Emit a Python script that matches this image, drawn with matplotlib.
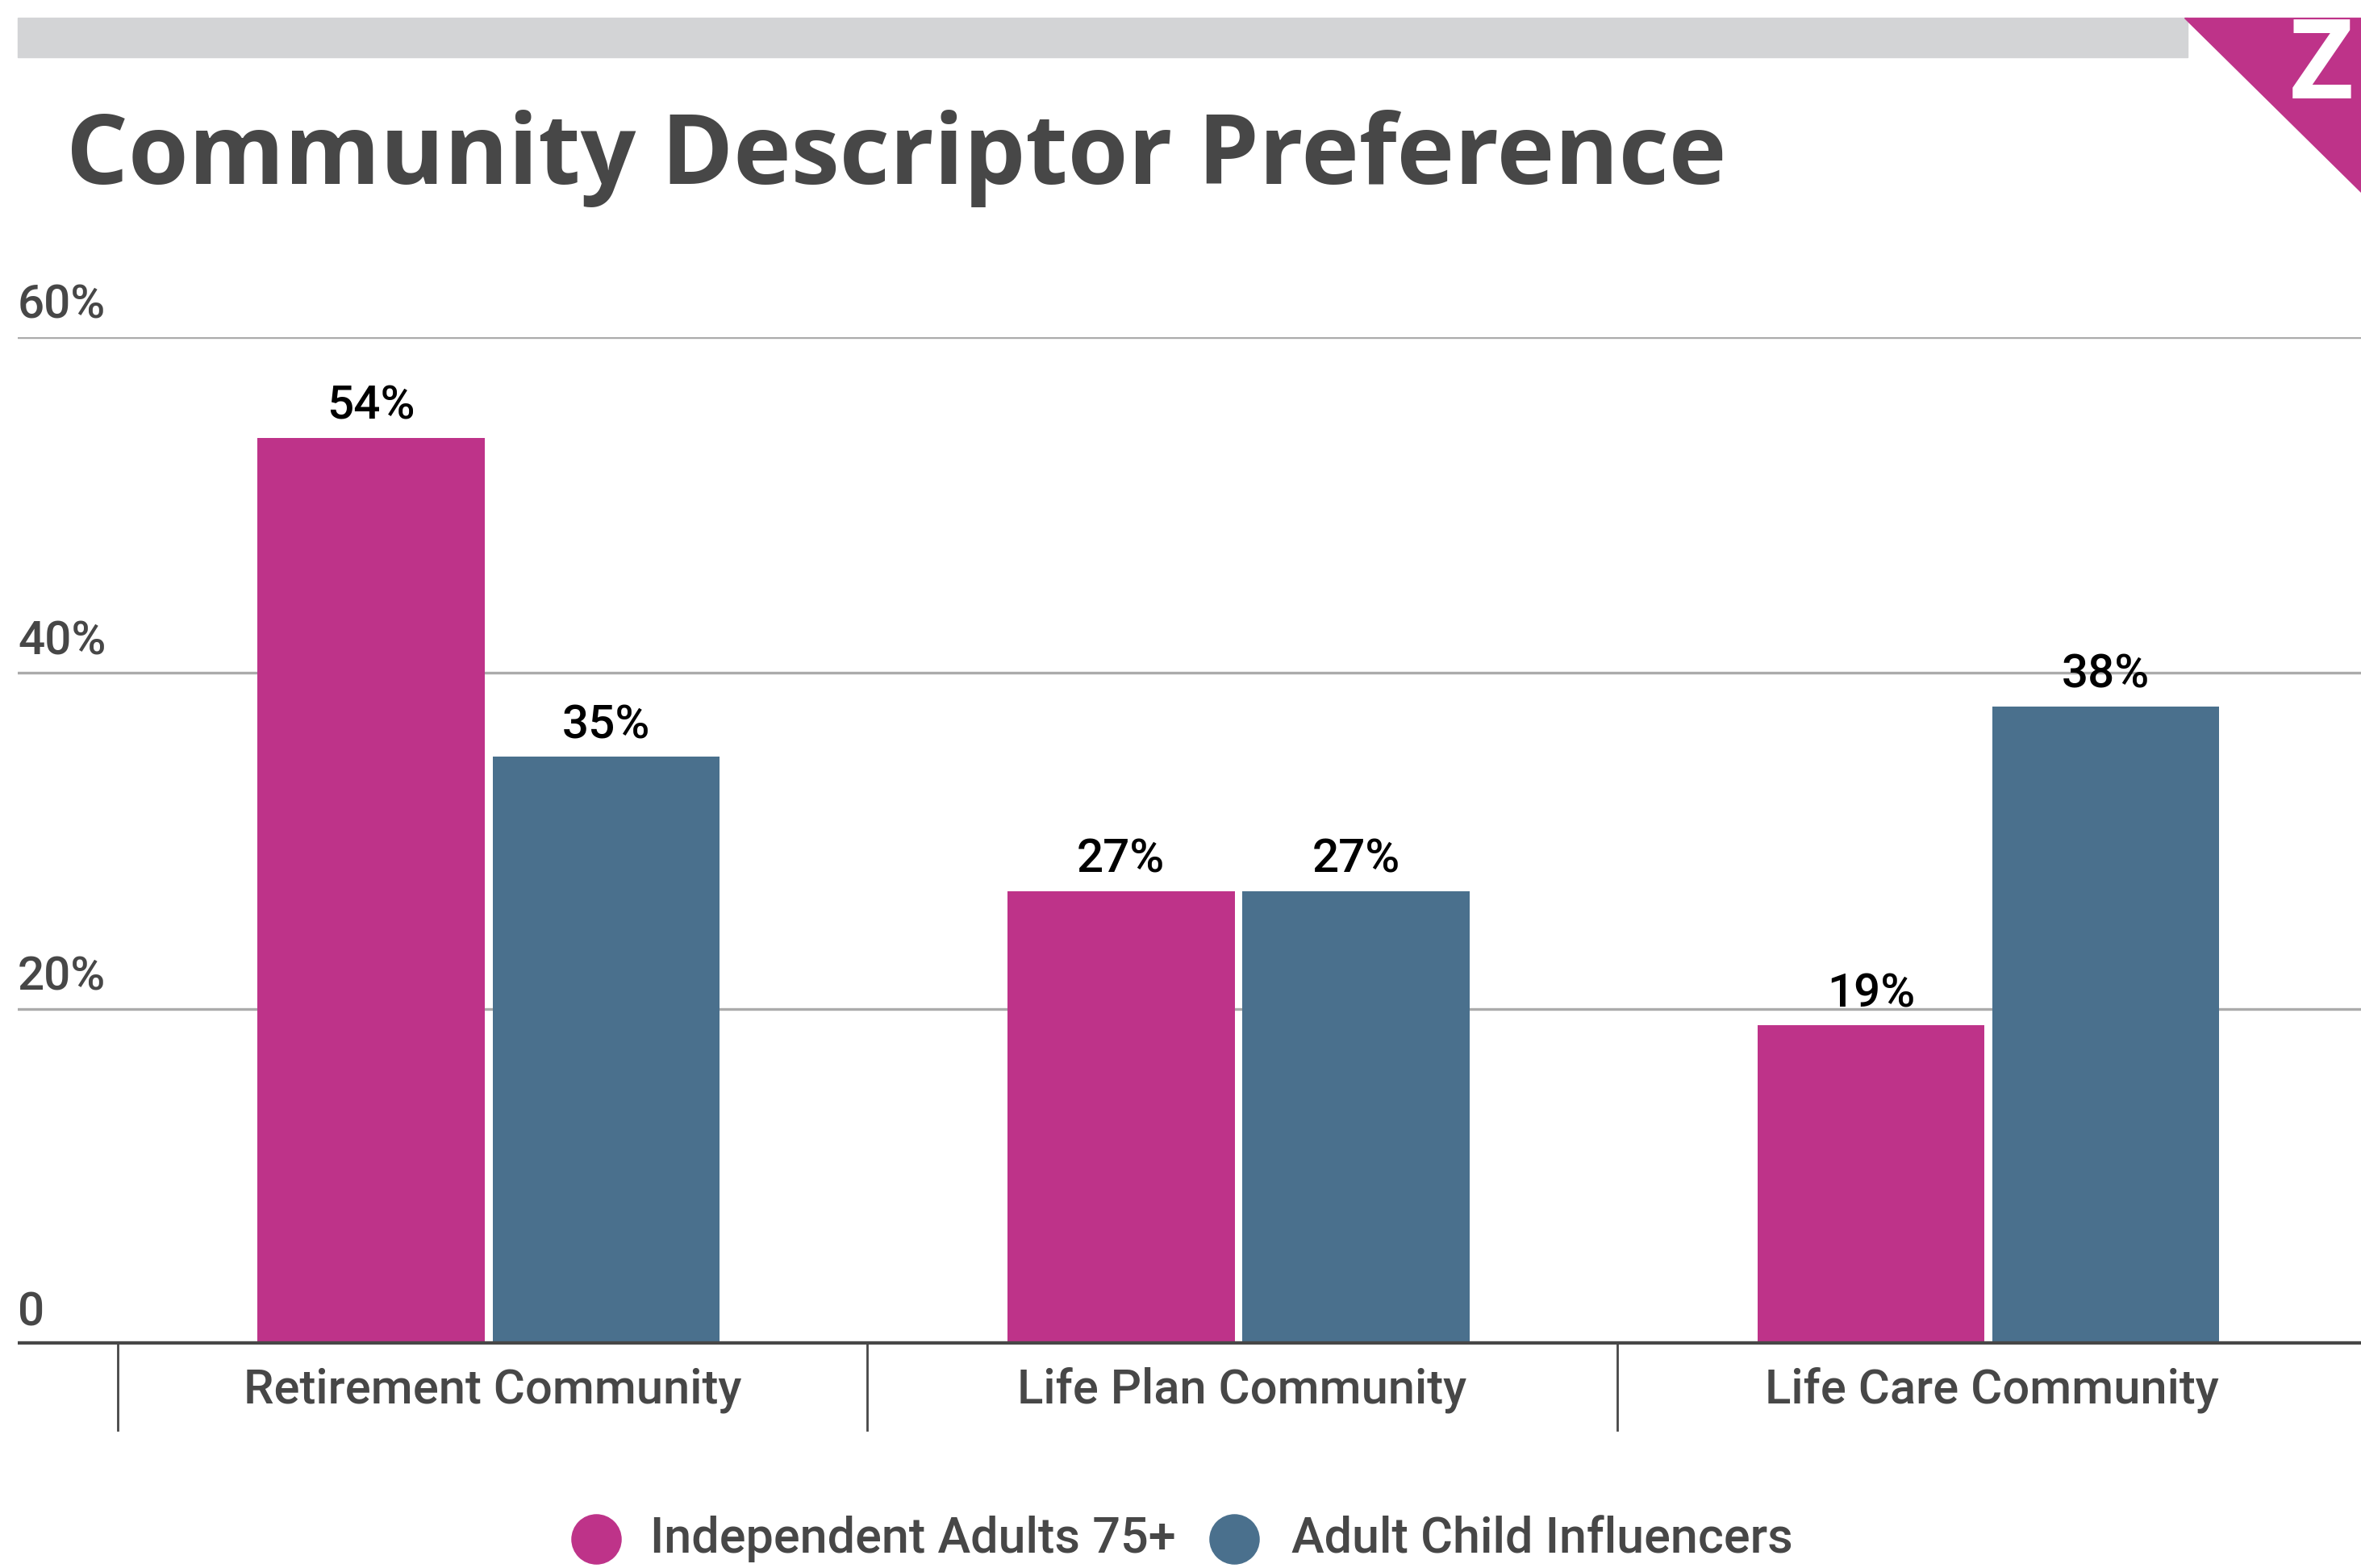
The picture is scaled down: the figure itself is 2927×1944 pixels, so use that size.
import numpy as np
import matplotlib.pyplot as plt
from matplotlib.patches import Polygon, Rectangle
from matplotlib.lines import Line2D

categories = ['Retirement Community', 'Life Plan Community', 'Life Care Community']
series_names = ['Independent Adults 75+', 'Adult Child Influencers']
adults75 = [54, 27, 19]
influencers = [35, 27, 38]
yticks = [0, 20, 40, 60]
ytick_labels = ['0', '20%', '40%', '60%']

magenta = '#BE3389'
blue = '#4A708D'
dark = '#474747'
grid = '#ABABAB'

W, H = 2927, 1944
fig = plt.figure(figsize=(W / 100, H / 100), dpi=100)
fig.patch.set_facecolor('white')

# header band and corner logo
fig.patches.append(Rectangle((22 / W, 1 - 71 / H), (2712 - 22) / W, 49 / H,
                             transform=fig.transFigure, color='#D3D4D6', zorder=0))
fig.patches.append(Polygon([(2708 / W, 1 - 22 / H), (1, 1 - 22 / H), (1, 1 - 238 / H)],
                           closed=True, transform=fig.transFigure, color=magenta, zorder=1))
fig.text(2878 / W, 1 - 86 / H, 'Z', fontsize=98, fontweight='bold', family='Open Sans',
         color='white', ha='center', va='center', zorder=2)

fig.text(82 / W, 1 - 228 / H, 'Community Descriptor Preference', fontsize=87,
         fontweight='bold', family='Open Sans', color=dark, ha='left', va='baseline')

ax = fig.add_axes([22 / W, 1 - 1667 / H, 1 - 22 / W, (1667 - 418) / H])
x = np.arange(len(categories))
bw = 0.303
b1 = ax.bar(x - 0.1616, adults75, bw, color=magenta, zorder=2)
b2 = ax.bar(x + 0.1516, influencers, bw, color=blue, zorder=2)

for bars, vals in [(b1, adults75), (b2, influencers)]:
    for b, v in zip(bars, vals):
        ax.annotate(f'{v}%', (b.get_x() + b.get_width() / 2, v), xytext=(0, 8),
                    textcoords='offset points', ha='center', va='bottom',
                    fontsize=42, fontweight='medium', family='Roboto',
                    color='black', zorder=4)

ax.set_xlim(-0.633, 2.492)
ax.set_ylim(0, 60)
for s in ax.spines.values():
    s.set_visible(False)
ax.set_xticks([])
ax.set_yticks([])

for yv, lab in zip(yticks, ytick_labels):
    if yv > 0:
        ax.axhline(yv, color=grid, lw=2.4, zorder=1)
    ax.annotate(lab, (0, yv), xycoords=('axes fraction', 'data'), xytext=(0, 8),
                textcoords='offset points', ha='left', va='bottom',
                fontsize=42, fontweight='medium', family='Roboto', color=dark)
ax.axhline(0, color=dark, lw=6, zorder=3)

# category boundary ticks and labels below the axis
for b in [-0.5, 0.5, 1.5]:
    ax.add_line(Line2D([b, b], [0, -0.085], transform=ax.get_xaxis_transform(),
                       color=dark, lw=2, clip_on=False))
for xi, c in zip(x, categories):
    ax.annotate(c, (xi, 0), xycoords=('data', 'axes fraction'), xytext=(0, -20),
                textcoords='offset points', ha='center', va='top',
                fontsize=43, fontweight='medium', family='Roboto', color=dark)

# legend
ly = 1 - 1908 / H
for cx, tx, name, col in [(739, 806, series_names[0], magenta), (1530, 1601, series_names[1], blue)]:
    fig.lines.append(Line2D([cx / W], [ly], marker='o', markersize=44, color=col,
                            transform=fig.transFigure, linestyle='none'))
    fig.text(tx / W, ly, name, fontsize=44, fontweight='medium', family='Roboto',
             color=dark, ha='left', va='center')

fig.savefig('out.png', dpi=100)
